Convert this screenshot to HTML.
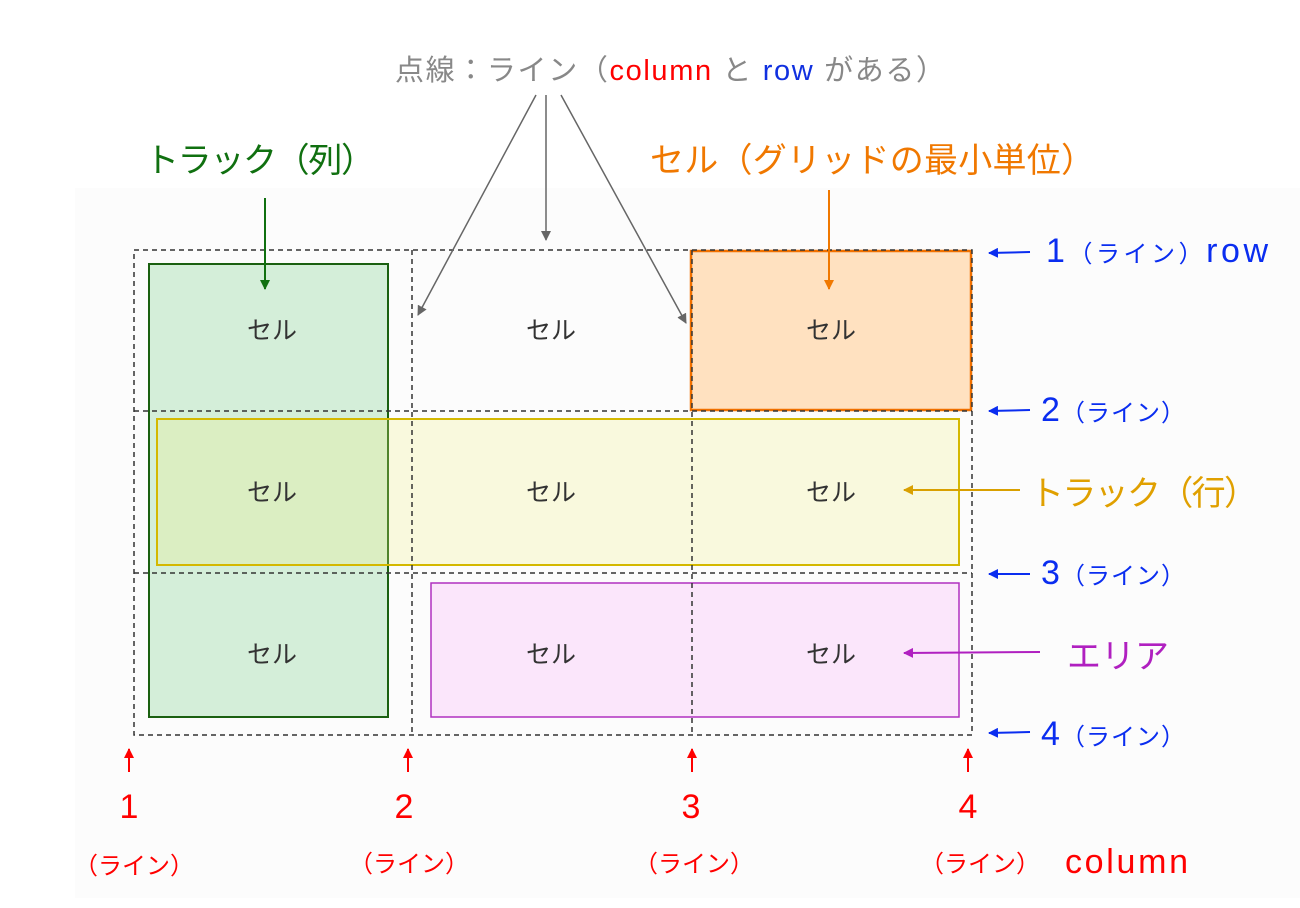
<!DOCTYPE html>
<html><head><meta charset="utf-8"><style>
html,body{margin:0;padding:0;background:#fff}
svg text{font-family:"Liberation Sans","Noto Sans CJK JP",sans-serif}
</style></head><body>
<svg width="1300" height="903" xmlns="http://www.w3.org/2000/svg">
<defs>
<marker id="ag" markerWidth="10" markerHeight="10" refX="9" refY="5" orient="auto" markerUnits="userSpaceOnUse"><path d="M0,0 L10,5 L0,10 z" fill="#666"/></marker>
<marker id="agr" markerWidth="10" markerHeight="14" refX="9" refY="5" orient="auto" markerUnits="userSpaceOnUse"><path d="M0,0 L10,5 L0,10 z" fill="#107010"/></marker>
<marker id="ao" markerWidth="10" markerHeight="10" refX="9" refY="5" orient="auto" markerUnits="userSpaceOnUse"><path d="M0,0 L10,5 L0,10 z" fill="#f07800"/></marker>
<marker id="ab" markerWidth="10" markerHeight="10" refX="9" refY="5" orient="auto" markerUnits="userSpaceOnUse"><path d="M0,0 L10,5 L0,10 z" fill="#0a2df0"/></marker>
<marker id="ar" markerWidth="10" markerHeight="10" refX="9" refY="5" orient="auto" markerUnits="userSpaceOnUse"><path d="M0,0 L10,5 L0,10 z" fill="#f00"/></marker>
<marker id="ay" markerWidth="10" markerHeight="10" refX="9" refY="5" orient="auto" markerUnits="userSpaceOnUse"><path d="M0,0 L10,5 L0,10 z" fill="#d9a000"/></marker>
<marker id="ap" markerWidth="10" markerHeight="10" refX="9" refY="5" orient="auto" markerUnits="userSpaceOnUse"><path d="M0,0 L10,5 L0,10 z" fill="#b020c0"/></marker>
</defs>
<rect x="75" y="188" width="1225" height="710" fill="#fcfcfc"/>
<rect x="149" y="264" width="239" height="453" fill="#d4eed9" stroke="#1a6010" stroke-width="2"/>
<rect x="691" y="251" width="280" height="159" fill="#ffe1c0" stroke="#f07000" stroke-width="2.5"/>
<rect x="431" y="583" width="528" height="134" fill="#fbe6fb" stroke="#b030c0" stroke-width="1.5"/>
<rect x="157" y="419" width="802" height="146" fill="#f0f080" fill-opacity="0.25" stroke="#d4b800" stroke-width="2"/>
<g stroke="#333" stroke-width="1.5" stroke-dasharray="5,4" fill="none">
<rect x="134" y="250" width="838" height="485"/>
<line x1="412" y1="250" x2="412" y2="735"/>
<line x1="692" y1="250" x2="692" y2="735"/>
<line x1="134" y1="411" x2="972" y2="411"/>
<line x1="134" y1="573" x2="972" y2="573"/>
</g>
<g font-size="25" fill="#333" text-anchor="middle">
<text x="272" y="339">セル</text><text x="551" y="339">セル</text><text x="831" y="339">セル</text>
<text x="272" y="501">セル</text><text x="551" y="501">セル</text><text x="831" y="501">セル</text>
<text x="272" y="663">セル</text><text x="551" y="663">セル</text><text x="831" y="663">セル</text>
</g>
<text x="395" y="80" font-size="29" fill="#888" textLength="550" lengthAdjust="spacing">点線：ライン（<tspan fill="#f00">column</tspan> と <tspan fill="#1030e0">row</tspan> がある）</text>
<g stroke="#666" stroke-width="1.5" marker-end="url(#ag)">
<line x1="536" y1="95" x2="418" y2="315"/>
<line x1="546" y1="95" x2="546" y2="240"/>
<line x1="561" y1="95" x2="686" y2="323"/>
</g>
<text x="145" y="172" font-size="34" fill="#107010" textLength="230">トラック（列）</text>
<line x1="265" y1="198" x2="265" y2="289" stroke="#107010" stroke-width="2" marker-end="url(#agr)"/>
<text x="650" y="172" font-size="34" fill="#f07800" textLength="445">セル（グリッドの最小単位）</text>
<line x1="829" y1="190" x2="829" y2="289" stroke="#f07800" stroke-width="2" marker-end="url(#ao)"/>
<g stroke="#0a2df0" stroke-width="2" marker-end="url(#ab)">
<line x1="1030" y1="252" x2="989" y2="253"/>
<line x1="1030" y1="410" x2="989" y2="411"/>
<line x1="1030" y1="574" x2="989" y2="574"/>
<line x1="1030" y1="732" x2="989" y2="733"/>
</g>
<g fill="#0a2df0">
<text x="1046" y="262" font-size="34" textLength="222" lengthAdjust="spacing">1<tspan font-size="24">（ライン）</tspan>row</text>
<text x="1041" y="421" font-size="34" textLength="144" lengthAdjust="spacing">2<tspan font-size="24">（ライン）</tspan></text>
<text x="1041" y="584" font-size="34" textLength="144" lengthAdjust="spacing">3<tspan font-size="24">（ライン）</tspan></text>
<text x="1041" y="745" font-size="34" textLength="144" lengthAdjust="spacing">4<tspan font-size="24">（ライン）</tspan></text>
</g>
<text x="1030" y="505" font-size="34" fill="#e0a000" textLength="228">トラック（行）</text>
<line x1="1020" y1="490" x2="904" y2="490" stroke="#d9a000" stroke-width="2" marker-end="url(#ay)"/>
<text x="1067" y="668" font-size="34" fill="#b020c0">エリア</text>
<line x1="1040" y1="652" x2="904" y2="653" stroke="#b020c0" stroke-width="2" marker-end="url(#ap)"/>
<g stroke="#f00" stroke-width="2" marker-end="url(#ar)">
<line x1="129" y1="772" x2="129" y2="749"/>
<line x1="408" y1="772" x2="408" y2="749"/>
<line x1="692" y1="772" x2="692" y2="749"/>
<line x1="968" y1="772" x2="968" y2="749"/>
</g>
<g fill="#f00" text-anchor="middle">
<text x="129" y="818" font-size="34">1</text>
<text x="404" y="818" font-size="34">2</text>
<text x="691" y="818" font-size="34">3</text>
<text x="968" y="818" font-size="34">4</text>
<text x="134" y="874" font-size="24">（ライン）</text>
<text x="409" y="872" font-size="24">（ライン）</text>
<text x="694" y="872" font-size="24">（ライン）</text>
<text x="980" y="872" font-size="24">（ライン）</text>
</g>
<text x="1065" y="873" font-size="34" fill="#f00" textLength="123">column</text>
</svg>
</body></html>
